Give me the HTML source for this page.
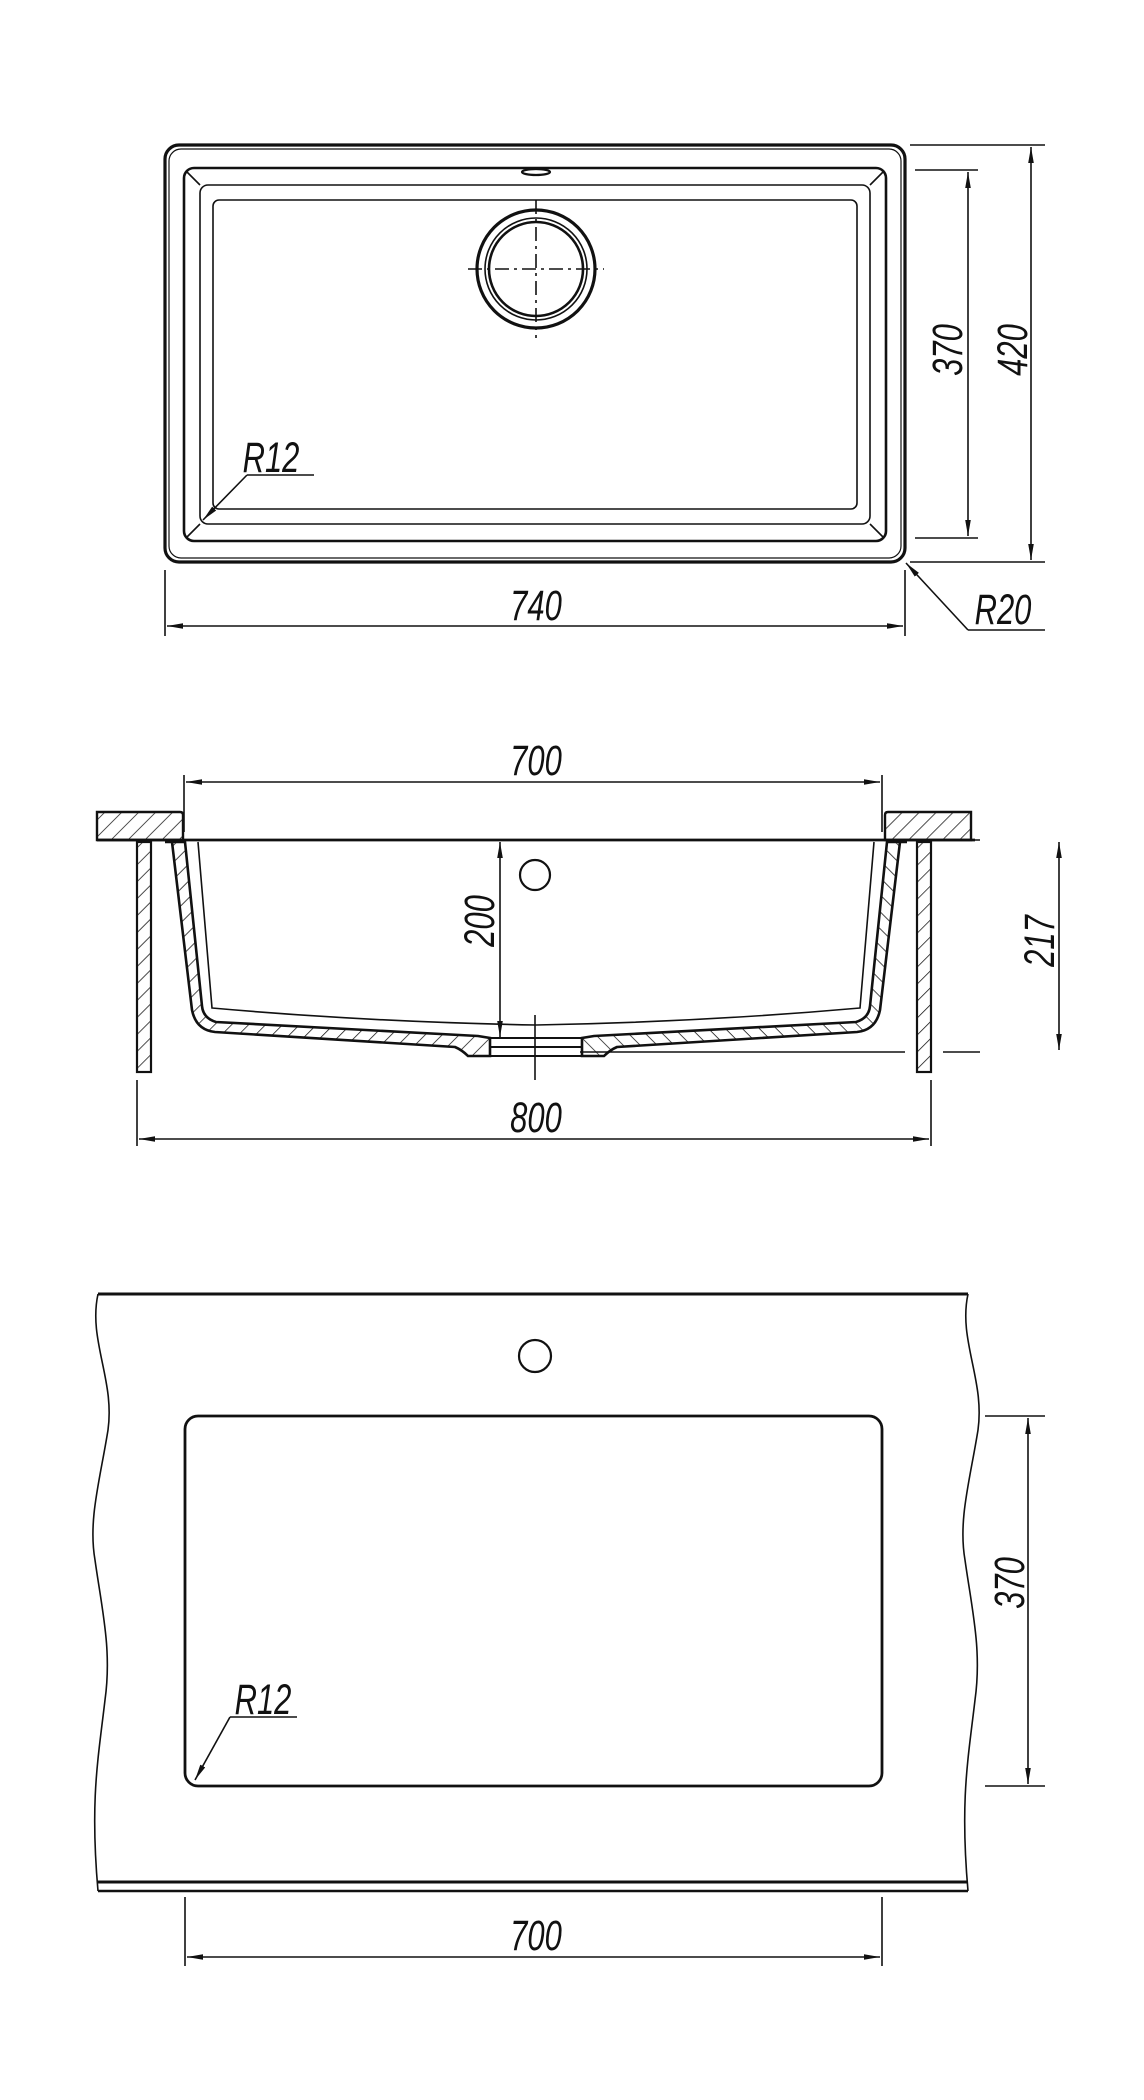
<!DOCTYPE html>
<html><head><meta charset="utf-8"><style>
html,body{margin:0;padding:0;background:#fff}
svg{display:block}
text{font-family:"Liberation Sans",sans-serif;font-style:italic;font-size:43px;fill:#111}
</style></head><body>
<svg width="1144" height="2100" viewBox="0 0 1144 2100" xmlns="http://www.w3.org/2000/svg">
<defs>
<marker id="a" markerWidth="16" markerHeight="8" refX="16" refY="4" orient="auto-start-reverse" markerUnits="userSpaceOnUse">
<path d="M0,1.2 L16,4 L0,6.8 Z" fill="#111"/></marker>
<pattern id="h" width="12" height="12" patternUnits="userSpaceOnUse" patternTransform="rotate(45)">
<rect width="12" height="12" fill="#fff"/><line x1="0" y1="0" x2="0" y2="12" stroke="#111" stroke-width="1.5"/></pattern>
</defs>
<g fill="none" stroke="#111" stroke-width="1.6">
<!-- TOP VIEW -->
<rect x="165" y="145" width="740" height="417" rx="14" stroke-width="3.2"/>
<rect x="169" y="149" width="732" height="409" rx="12" stroke-width="1.2"/>
<rect x="184" y="168" width="702" height="373" rx="10" stroke-width="2.6"/>
<rect x="200" y="185" width="670" height="339" rx="8"/>
<rect x="213" y="200" width="644" height="309" rx="6"/>
<line x1="187" y1="172" x2="200" y2="185"/><line x1="883" y1="172" x2="870" y2="185"/>
<line x1="187" y1="537" x2="200" y2="524"/><line x1="883" y1="537" x2="870" y2="524"/>
<ellipse cx="536" cy="172" rx="14" ry="3" stroke-width="2.2"/>
<circle cx="536" cy="269" r="59" stroke-width="3.2"/>
<circle cx="536" cy="269" r="51"/>
<circle cx="536" cy="269" r="47" stroke-width="2.6"/>
<path d="M468,269 H604 M536,200 V338" stroke-dasharray="14,5,3,5"/>
<path d="M915,170 H978 M915,538 H978 M910,145 H1045 M910,562 H1045"/>
<line x1="968" y1="172" x2="968" y2="536" marker-start="url(#a)" marker-end="url(#a)"/>
<line x1="1031" y1="147" x2="1031" y2="560" marker-start="url(#a)" marker-end="url(#a)"/>
<path d="M165,570 V636 M905,570 V636"/>
<line x1="167" y1="626" x2="903" y2="626" marker-start="url(#a)" marker-end="url(#a)"/>
<path d="M968,630 L1045,630"/>
<line x1="968" y1="630" x2="906" y2="563" marker-end="url(#a)"/>
<path d="M247,475 H314"/>
<line x1="247" y1="475" x2="203" y2="520" marker-end="url(#a)"/>

<!-- SECTION VIEW -->
<path d="M184,775 V832 M882,775 V832"/>
<line x1="186" y1="782" x2="880" y2="782" marker-start="url(#a)" marker-end="url(#a)"/>
<path d="M97,812 H180 Q183,812 183,815 V840 H97 Z" fill="url(#h)" stroke-width="2.4"/>
<path d="M971,812 H888 Q885,812 885,815 V840 H971 Z" fill="url(#h)" stroke-width="2.4"/>
<line x1="97" y1="840" x2="975" y2="840" stroke-width="2.8"/>
<rect x="137" y="842" width="14" height="230" fill="url(#h)" stroke-width="2.2"/>
<rect x="917" y="842" width="14" height="230" fill="url(#h)" stroke-width="2.2"/>
<g id="L">
<path d="M165,842 H172 L192,1010 Q196,1030 215,1032 L455,1047 Q462,1050 468,1056 H490 V1038 L478,1036 L216,1022 Q203,1018 202,1006 L185,842 Z" fill="url(#h)" stroke-width="2.6"/>
<path d="M198,842 L212,1008 Q370,1022 536,1025"/>
</g>
<use href="#L" transform="translate(1072,0) scale(-1,1)"/>
<path d="M490,1038 H582 M490,1047 H582 M490,1056 H582" stroke-width="2"/>
<path d="M535,1015 V1080"/>
<path d="M580,1052 H905 M943,1052 H980 M940,840 H980"/>
<circle cx="535" cy="875" r="15" stroke-width="2.2"/>
<line x1="500" y1="842" x2="500" y2="1037" marker-start="url(#a)" marker-end="url(#a)"/>
<line x1="1059" y1="842" x2="1059" y2="1050" marker-start="url(#a)" marker-end="url(#a)"/>
<path d="M137,1080 V1146 M931,1080 V1146"/>
<line x1="139" y1="1139" x2="929" y2="1139" marker-start="url(#a)" marker-end="url(#a)"/>

<!-- BOTTOM VIEW -->
<line x1="98" y1="1294" x2="968" y2="1294" stroke-width="3"/>
<line x1="98" y1="1882" x2="968" y2="1882" stroke-width="3"/>
<line x1="98" y1="1891" x2="968" y2="1891" stroke-width="2.4"/>
<path d="M98,1294 C88,1340 115,1380 108,1430 C100,1480 88,1520 95,1560 C102,1610 112,1650 105,1700 C98,1760 90,1800 98,1891"/>
<path d="M968,1294 C958,1340 985,1380 978,1430 C970,1480 958,1520 965,1560 C972,1610 982,1650 975,1700 C968,1760 960,1800 968,1891"/>
<circle cx="535" cy="1356" r="16" stroke-width="2.2"/>
<rect x="185" y="1416" width="697" height="370" rx="13" stroke-width="2.8"/>
<path d="M985,1416 H1045 M985,1786 H1045"/>
<line x1="1028" y1="1418" x2="1028" y2="1784" marker-start="url(#a)" marker-end="url(#a)"/>
<path d="M230,1717 H297"/>
<line x1="230" y1="1717" x2="195" y2="1780" marker-end="url(#a)"/>
<path d="M185,1897 V1966 M882,1897 V1966"/>
<line x1="187" y1="1957" x2="880" y2="1957" marker-start="url(#a)" marker-end="url(#a)"/>
</g>
<g text-anchor="middle">
<text transform="translate(536,620) scale(0.72,1)">740</text>
<text transform="translate(962,350) rotate(-90) scale(0.72,1)">370</text>
<text transform="translate(1027,350) rotate(-90) scale(0.72,1)">420</text>
<text transform="translate(1003,624) scale(0.72,1)">R20</text>
<text transform="translate(271,472) scale(0.72,1)">R12</text>
<text transform="translate(536,775) scale(0.72,1)">700</text>
<text transform="translate(494,921) rotate(-90) scale(0.72,1)">200</text>
<text transform="translate(1054,941) rotate(-90) scale(0.72,1)">217</text>
<text transform="translate(536,1132) scale(0.72,1)">800</text>
<text transform="translate(1024,1583) rotate(-90) scale(0.72,1)">370</text>
<text transform="translate(263,1714) scale(0.72,1)">R12</text>
<text transform="translate(536,1950) scale(0.72,1)">700</text>
</g>
</svg>
</body></html>
